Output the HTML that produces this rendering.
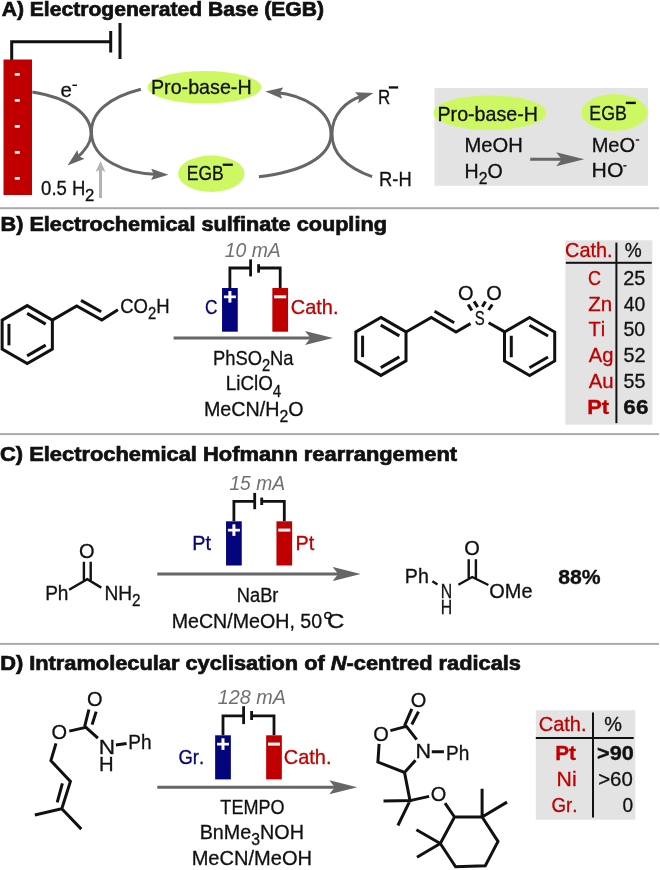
<!DOCTYPE html>
<html><head><meta charset="utf-8">
<style>
html,body{margin:0;padding:0;background:#fff;width:660px;height:870px;overflow:hidden}
svg{display:block;will-change:transform}
text{font-family:"Liberation Sans",sans-serif;font-kerning:none}
</style></head>
<body>
<svg width="660" height="870" viewBox="0 0 660 870">
<defs>
<marker id="ahS" markerWidth="30" markerHeight="16" refX="8" refY="7" orient="auto" markerUnits="userSpaceOnUse">
<path d="M28,7 L0,0 L5.5,7 L0,14 Z" fill="#666"/></marker>
<marker id="ahA" markerWidth="20" markerHeight="14" refX="7" refY="5.75" orient="auto" markerUnits="userSpaceOnUse">
<path d="M17.5,5.75 L0,0 L3,5.75 L0,11.5 Z" fill="#666"/></marker>
<marker id="ahL" markerWidth="14" markerHeight="12" refX="3" refY="5" orient="auto" markerUnits="userSpaceOnUse">
<path d="M11,5 L0,0 L2.5,5 L0,10 Z" fill="#b4b4b4"/></marker>
</defs>
<rect x="0" y="207.2" width="659" height="2" fill="#aaaaaa"/>
<rect x="0" y="433.1" width="659" height="2" fill="#aaaaaa"/>
<rect x="0" y="642.9" width="659" height="2" fill="#aaaaaa"/>
<path d="M11.7,60 V41.8 H110" stroke="#111111" stroke-width="3" fill="none"/>
<rect x="109.2" y="31" width="3" height="21.5" fill="#111111"/>
<rect x="118.5" y="23" width="3" height="36" fill="#111111"/>
<rect x="3.5" y="59.5" width="28.5" height="135.5" fill="#c00000"/>
<rect x="14.8" y="73.1" width="5" height="2.6" fill="#fff"/>
<rect x="14.8" y="99.1" width="5" height="2.6" fill="#fff"/>
<rect x="14.8" y="125.1" width="5" height="2.6" fill="#fff"/>
<rect x="14.8" y="151.1" width="5" height="2.6" fill="#fff"/>
<rect x="14.8" y="177.1" width="5" height="2.6" fill="#fff"/>
<path d="M32.3,92.1 C70,98 92,115 91,135 C90.5,145 84,152 75.6,158.8" stroke="#666666" stroke-width="3" fill="none" marker-end="url(#ahA)"/>
<path d="M140.9,89.2 C110,97 90,112 91.5,134 C93,160 125,174 158,174.5" stroke="#666666" stroke-width="3" fill="none" marker-end="url(#ahA)"/>
<path d="M258.9,176.7 C300,172 331,158 331,134 C331,110 303,95 275.8,92.5" stroke="#666666" stroke-width="3" fill="none" marker-end="url(#ahA)"/>
<path d="M372.1,176.7 C345,167 332,152 332,134 C332,115 345,101 363.3,95.8" stroke="#666666" stroke-width="3" fill="none" marker-end="url(#ahA)"/>
<path d="M100.5,198 V169" stroke="#b4b4b4" stroke-width="3" fill="none" marker-end="url(#ahL)"/>
<ellipse cx="204.5" cy="87.3" rx="56.8" ry="16.3" fill="#cdf864"/>
<ellipse cx="211.3" cy="173.7" rx="33.2" ry="18.2" fill="#cdf864"/>
<rect x="222.7" y="163.6" width="10.1" height="2.3" fill="#111111"/>
<rect x="388.8" y="86.3" width="9.4" height="2.3" fill="#111111"/>
<rect x="72.3" y="84.6" width="4.7" height="1.4" fill="#111111"/>
<rect x="434.5" y="88" width="213.5" height="97.8" fill="#e3e3e3"/>
<ellipse cx="490" cy="112.8" rx="56.4" ry="17.3" fill="#cdf864"/>
<ellipse cx="614.4" cy="112.5" rx="33.1" ry="18.3" fill="#cdf864"/>
<rect x="625.8" y="101.7" width="10" height="2.4" fill="#111111"/>
<rect x="635.8" y="139.3" width="3.4" height="1.4" fill="#111111"/>
<rect x="623.3" y="165.1" width="3.2" height="1.4" fill="#111111"/>
<path d="M530.2,159.2 H564.2" stroke="#666666" stroke-width="3" fill="none" marker-end="url(#ahS)"/>
<path d="M27.25,305.60 L52.36,320.10 L52.36,349.10 L27.25,363.60 L2.14,349.10 L2.14,320.10 Z" stroke="#111111" stroke-width="3" fill="none" stroke-linejoin="miter"/><path d="M27.11,313.37 L45.70,324.10" stroke="#111111" stroke-width="3"/><path d="M45.70,345.10 L27.11,355.83" stroke="#111111" stroke-width="3"/><path d="M8.94,345.33 L8.94,323.87" stroke="#111111" stroke-width="3"/>
<path d="M52.3,320.1 L76.7,306 L101.8,320.1 L117.9,309.8" stroke="#111111" stroke-width="3" fill="none" stroke-linejoin="miter" stroke-miterlimit="10"/>
<path d="M81,300.4 L101.2,311.7" stroke="#111111" stroke-width="3" fill="none" stroke-linejoin="miter" stroke-miterlimit="10"/>
<path d="M229.90,288 V268 H250.6 M258.6,268 H280.20 V288" stroke="#111111" stroke-width="2.8" fill="none"/><rect x="249.20" y="259.4" width="2.8" height="17.00" fill="#111111"/><rect x="257.20" y="264.2" width="2.8" height="8.50" fill="#111111"/><rect x="222.05" y="288" width="15.7" height="43.70" fill="#04047c"/><rect x="272.35" y="288" width="15.7" height="43.70" fill="#c00000"/><rect x="223.90" y="295.50" width="12" height="2.7" fill="#fff"/><rect x="228.40" y="291.00" width="3" height="11.6" fill="#fff"/><rect x="274.20" y="295.30" width="12" height="3" fill="#fff"/>
<path d="M173.6,338.1 H313" stroke="#666666" stroke-width="3" fill="none" marker-end="url(#ahS)"/>
<path d="M380.90,317.40 L406.01,331.90 L406.01,360.90 L380.90,375.40 L355.79,360.90 L355.79,331.90 Z" stroke="#111111" stroke-width="3" fill="none" stroke-linejoin="miter"/><path d="M380.76,325.17 L399.35,335.90" stroke="#111111" stroke-width="3"/><path d="M399.35,356.90 L380.76,367.63" stroke="#111111" stroke-width="3"/><path d="M362.59,357.13 L362.59,335.67" stroke="#111111" stroke-width="3"/>
<path d="M406,332 L431.3,317.5 L456,332 L470.5,323.6" stroke="#111111" stroke-width="3" fill="none" stroke-linejoin="miter" stroke-miterlimit="10"/>
<path d="M434.5,311.2 L454.2,322.8" stroke="#111111" stroke-width="3" fill="none" stroke-linejoin="miter" stroke-miterlimit="10"/>
<path d="M488.6,322.7 L504.3,331.6" stroke="#111111" stroke-width="3" fill="none" stroke-linejoin="miter" stroke-miterlimit="10"/>
<path d="M529.60,317.50 L554.71,332.00 L554.71,361.00 L529.60,375.50 L504.49,361.00 L504.49,332.00 Z" stroke="#111111" stroke-width="3" fill="none" stroke-linejoin="miter"/><path d="M529.46,325.27 L548.05,336.00" stroke="#111111" stroke-width="3"/><path d="M548.05,357.00 L529.46,367.73" stroke="#111111" stroke-width="3"/><path d="M511.29,357.23 L511.29,335.77" stroke="#111111" stroke-width="3"/>
<path d="M468.2,304.5 L471.8,310.5 M474.1,301.4 L477.7,307.1 M485.5,301.4 L482.3,306.8 M492.3,304.5 L488.6,310" stroke="#111111" stroke-width="3"/>
<rect x="565.3" y="240.3" width="87.1" height="184.4" fill="#e3e3e3"/>
<rect x="565.8" y="261.8" width="85.9" height="2" fill="#111111"/>
<rect x="615.4" y="242.6" width="2" height="180.6" fill="#111111"/>
<path d="M83.9,561.8 V580.5 M90.7,561.8 V580.5" stroke="#111111" stroke-width="2.4" fill="none" stroke-linejoin="miter" stroke-miterlimit="10"/>
<path d="M69.1,589.8 L87.3,579.2 L101.3,587.6" stroke="#111111" stroke-width="2.4" fill="none" stroke-linejoin="miter" stroke-miterlimit="10"/>
<path d="M233.90,521.3 V501.4 H254.7 M261.7,501.4 H284.30 V521.3" stroke="#111111" stroke-width="2.8" fill="none"/><rect x="253.30" y="492.9" width="2.8" height="16.30" fill="#111111"/><rect x="260.30" y="497.6" width="2.8" height="7.40" fill="#111111"/><rect x="226.05" y="521.3" width="15.7" height="44.20" fill="#04047c"/><rect x="276.45" y="521.3" width="15.7" height="44.20" fill="#c00000"/><rect x="227.90" y="528.80" width="12" height="2.7" fill="#fff"/><rect x="232.40" y="524.30" width="3" height="11.6" fill="#fff"/><rect x="278.30" y="528.60" width="12" height="3" fill="#fff"/>
<path d="M157.3,574 H340.7" stroke="#666666" stroke-width="3" fill="none" marker-end="url(#ahS)"/>
<path d="M432.4,581.3 L437.5,584.5 M458.4,584.8 L472.2,577 L488.4,585 M468.7,559.3 V578 M475.9,559.3 V578" stroke="#111111" stroke-width="2.4" fill="none" stroke-linejoin="miter" stroke-miterlimit="10"/>
<circle cx="327.9" cy="615.5" r="3.1" stroke="#111111" stroke-width="1.5" fill="none"/>
<path d="M84.6,726.6 L88.9,709.5 M92.1,724.6 L96.2,711.6" stroke="#111111" stroke-width="3" fill="none" stroke-linejoin="miter" stroke-miterlimit="10"/>
<path d="M69.3,731.1 L85.9,727.3 L97.9,738.2 M115.9,745 L126.6,743.4" stroke="#111111" stroke-width="3" fill="none" stroke-linejoin="miter" stroke-miterlimit="10"/>
<path d="M56,743.4 L50.9,760.7 L70.4,781.4 L61.8,808.7 L34.8,815 M61.8,808.7 L81.3,829.1 M62.4,783.4 L57.2,802.3" stroke="#111111" stroke-width="3" fill="none" stroke-linejoin="miter" stroke-miterlimit="10"/>
<path d="M223.00,735.3 V715.9 H243.6 M251.6,715.9 H274.00 V735.3" stroke="#111111" stroke-width="2.8" fill="none"/><rect x="242.20" y="706.2" width="2.8" height="17.90" fill="#111111"/><rect x="250.20" y="711.0" width="2.8" height="9.00" fill="#111111"/><rect x="215.15" y="735.3" width="15.7" height="44.10" fill="#04047c"/><rect x="266.15" y="735.3" width="15.7" height="44.10" fill="#c00000"/><rect x="217.00" y="742.80" width="12" height="2.7" fill="#fff"/><rect x="221.50" y="738.30" width="3" height="11.6" fill="#fff"/><rect x="268.00" y="742.60" width="12" height="3" fill="#fff"/>
<path d="M157.3,787.3 H337.3" stroke="#666666" stroke-width="3" fill="none" marker-end="url(#ahS)"/>
<path d="M404.5,725.8 L411.8,708.8 M411.8,724.5 L418.5,711.6" stroke="#111111" stroke-width="3" fill="none" stroke-linejoin="miter" stroke-miterlimit="10"/>
<path d="M390.4,730.6 L406.4,726.4 L416.7,739.7 M431.8,751.8 H443.9 M379.1,743.9 L377.9,762.1 L404.5,772.4 L415.5,760.3 M404.5,772.4 L410,800.6 L383.5,801.1 M410,800.6 L397.9,825.5 M410,800.6 L429.1,796.4" stroke="#111111" stroke-width="3" fill="none" stroke-linejoin="miter" stroke-miterlimit="10"/>
<path d="M445,803.2 L454.5,817 M454.5,817 L482.1,817 L498,841.4 L485.3,865.8 L455.6,866.8 L440.3,843.5 Z M482.1,817 L482.1,788.8 M482.1,817 L507,802.1 M440.3,843.5 L416.4,829.7 M440.3,843.5 L417,857.3" stroke="#111111" stroke-width="3" fill="none" stroke-linejoin="miter" stroke-miterlimit="10"/>
<rect x="535.8" y="710.3" width="99.5" height="109.4" fill="#e3e3e3"/>
<rect x="535.8" y="737" width="97.9" height="2" fill="#111111"/>
<rect x="592" y="712.5" width="2" height="105" fill="#111111"/>
<text transform="translate(1.67,16.00) scale(1.0556,1)" font-size="20.00" fill="#111111" stroke="#111111" stroke-width="0.7" font-weight="bold" ><tspan y="0">A) Electrogenerated Base (EGB)</tspan></text>
<text transform="translate(0.51,231.30) scale(1.0834,1)" font-size="20.00" fill="#111111" stroke="#111111" stroke-width="0.7" font-weight="bold" ><tspan y="0">B) Electrochemical sulfinate coupling</tspan></text>
<text transform="translate(-0.02,460.80) scale(1.0943,1)" font-size="20.00" fill="#111111" stroke="#111111" stroke-width="0.7" font-weight="bold" ><tspan y="0">C) Electrochemical Hofmann rearrangement</tspan></text>
<text transform="translate(60.50,96.50) scale(1.0240,1)" font-size="20.00" fill="#111111" stroke="#111111" stroke-width="0.3" ><tspan y="0">e</tspan></text>
<text transform="translate(41.11,195.00) scale(0.9256,1)" font-size="20.00" fill="#111111" stroke="#111111" stroke-width="0.3" ><tspan y="0">0.5 H</tspan></text>
<text transform="translate(85.11,201.00) scale(1.0133,1)" font-size="16.50" fill="#111111" stroke="#111111" stroke-width="0.3" ><tspan y="0">2</tspan></text>
<text transform="translate(151.00,93.60) scale(0.9848,1)" font-size="20.00" fill="#111111" stroke="#111111" stroke-width="0.3" ><tspan y="0">Pro-base-H</tspan></text>
<text transform="translate(186.78,180.30) scale(0.8734,1)" font-size="20.00" fill="#111111" stroke="#111111" stroke-width="0.3" ><tspan y="0">EGB</tspan></text>
<text transform="translate(378.12,104.20) scale(0.8505,1)" font-size="20.00" fill="#111111" stroke="#111111" stroke-width="0.3" ><tspan y="0">R</tspan></text>
<text transform="translate(379.11,185.70) scale(0.9174,1)" font-size="20.00" fill="#111111" stroke="#111111" stroke-width="0.3" ><tspan y="0">R-H</tspan></text>
<text transform="translate(437.50,120.50) scale(0.9828,1)" font-size="20.00" fill="#111111" stroke="#111111" stroke-width="0.3" ><tspan y="0">Pro-base-H</tspan></text>
<text transform="translate(589.36,119.70) scale(0.8861,1)" font-size="20.00" fill="#111111" stroke="#111111" stroke-width="0.3" ><tspan y="0">EGB</tspan></text>
<text transform="translate(464.56,152.30) scale(1.0092,1)" font-size="20.00" fill="#111111" stroke="#111111" stroke-width="0.3" ><tspan y="0">MeOH</tspan></text>
<text transform="translate(464.61,178.00) scale(0.9787,1)" font-size="20.00" fill="#111111" stroke="#111111" stroke-width="0.3" ><tspan y="0">H</tspan><tspan font-size="16.00" y="6.2">2</tspan><tspan y="0">O</tspan></text>
<text transform="translate(591.67,151.50) scale(1.0037,1)" font-size="20.00" fill="#111111" stroke="#111111" stroke-width="0.3" ><tspan y="0">MeO</tspan></text>
<text transform="translate(591.57,176.80) scale(1.0618,1)" font-size="20.00" fill="#111111" stroke="#111111" stroke-width="0.3" ><tspan y="0">HO</tspan></text>
<text transform="translate(120.17,312.80) scale(0.9261,1)" font-size="20.00" fill="#111111" stroke="#111111" stroke-width="0.3" ><tspan y="0">CO</tspan><tspan font-size="16.00" y="6.2">2</tspan><tspan y="0">H</tspan></text>
<text transform="translate(224.71,256.50) scale(0.9710,1)" font-size="20.00" fill="#707070" stroke="#707070" stroke-width="0.0" font-style="italic" ><tspan y="0">10 mA</tspan></text>
<text transform="translate(204.94,314.00) scale(0.8634,1)" font-size="20.00" fill="#04047c" stroke="#04047c" stroke-width="0.3" ><tspan y="0">C</tspan></text>
<text transform="translate(290.80,314.00) scale(0.9978,1)" font-size="20.00" fill="#c00000" stroke="#c00000" stroke-width="0.3" ><tspan y="0">Cath.</tspan></text>
<text transform="translate(213.01,364.80) scale(0.9171,1)" font-size="20.00" fill="#111111" stroke="#111111" stroke-width="0.3" ><tspan y="0">PhSO</tspan><tspan font-size="16.00" y="6.2">2</tspan><tspan y="0">Na</tspan></text>
<text transform="translate(225.77,390.30) scale(0.9404,1)" font-size="20.00" fill="#111111" stroke="#111111" stroke-width="0.3" ><tspan y="0">LiClO</tspan><tspan font-size="16.00" y="6.2">4</tspan></text>
<text transform="translate(203.90,415.90) scale(0.9856,1)" font-size="20.00" fill="#111111" stroke="#111111" stroke-width="0.3" ><tspan y="0">MeCN/H</tspan><tspan font-size="16.00" y="6.2">2</tspan><tspan y="0">O</tspan></text>
<text transform="translate(457.95,300.30) scale(1.0000,1)" font-size="20.00" fill="#111111" stroke="#111111" stroke-width="0.3" ><tspan y="0">O</tspan></text>
<text transform="translate(486.35,300.30) scale(1.0000,1)" font-size="20.00" fill="#111111" stroke="#111111" stroke-width="0.3" ><tspan y="0">O</tspan></text>
<text transform="translate(474.85,325.00) scale(0.7478,1)" font-size="20.00" fill="#111111" stroke="#111111" stroke-width="0.3" ><tspan y="0">S</tspan></text>
<text transform="translate(565.11,257.40) scale(0.9933,1)" font-size="20.00" fill="#c00000" stroke="#c00000" stroke-width="0.3" ><tspan y="0">Cath.</tspan></text>
<text transform="translate(624.79,257.40) scale(0.9527,1)" font-size="20.00" fill="#111111" stroke="#111111" stroke-width="0.3" ><tspan y="0">%</tspan></text>
<text transform="translate(587.90,284.70) scale(0.9030,1)" font-size="20.00" fill="#c00000" stroke="#c00000" stroke-width="0.3" ><tspan y="0">C</tspan></text>
<text transform="translate(623.20,284.70) scale(0.9963,1)" font-size="20.00" fill="#111111" stroke="#111111" stroke-width="0.3" ><tspan y="0">25</tspan></text>
<text transform="translate(588.16,310.50) scale(1.0233,1)" font-size="20.00" fill="#c00000" stroke="#c00000" stroke-width="0.3" ><tspan y="0">Zn</tspan></text>
<text transform="translate(623.72,310.50) scale(0.9667,1)" font-size="20.00" fill="#111111" stroke="#111111" stroke-width="0.3" ><tspan y="0">40</tspan></text>
<text transform="translate(588.42,336.30) scale(1.0000,1)" font-size="20.00" fill="#c00000" stroke="#c00000" stroke-width="0.3" ><tspan y="0">Ti</tspan></text>
<text transform="translate(623.47,336.30) scale(0.9783,1)" font-size="20.00" fill="#111111" stroke="#111111" stroke-width="0.3" ><tspan y="0">50</tspan></text>
<text transform="translate(588.80,362.10) scale(1.0108,1)" font-size="20.00" fill="#c00000" stroke="#c00000" stroke-width="0.3" ><tspan y="0">Ag</tspan></text>
<text transform="translate(623.46,362.10) scale(0.9902,1)" font-size="20.00" fill="#111111" stroke="#111111" stroke-width="0.3" ><tspan y="0">52</tspan></text>
<text transform="translate(588.80,388.30) scale(1.0162,1)" font-size="20.00" fill="#c00000" stroke="#c00000" stroke-width="0.3" ><tspan y="0">Au</tspan></text>
<text transform="translate(623.46,388.30) scale(0.9842,1)" font-size="20.00" fill="#111111" stroke="#111111" stroke-width="0.3" ><tspan y="0">55</tspan></text>
<text transform="translate(587.30,413.60) scale(1.0884,1)" font-size="20.00" fill="#c00000" stroke="#c00000" stroke-width="0.35" font-weight="bold" ><tspan y="0">Pt</tspan></text>
<text transform="translate(623.35,413.60) scale(1.1277,1)" font-size="20.00" fill="#111111" stroke="#111111" stroke-width="0.35" font-weight="bold" ><tspan y="0">66</tspan></text>
<text transform="translate(78.95,557.60) scale(1.0000,1)" font-size="20.00" fill="#111111" stroke="#111111" stroke-width="0.3" ><tspan y="0">O</tspan></text>
<text transform="translate(45.15,600.00) scale(0.9526,1)" font-size="20.00" fill="#111111" stroke="#111111" stroke-width="0.3" ><tspan y="0">Ph</tspan></text>
<text transform="translate(104.44,600.00) scale(0.9577,1)" font-size="20.00" fill="#111111" stroke="#111111" stroke-width="0.3" ><tspan y="0">NH</tspan><tspan font-size="16.00" y="6.2">2</tspan></text>
<text transform="translate(229.42,490.20) scale(0.9621,1)" font-size="20.00" fill="#707070" stroke="#707070" stroke-width="0.0" font-style="italic" ><tspan y="0">15 mA</tspan></text>
<text transform="translate(192.19,550.20) scale(0.9927,1)" font-size="20.00" fill="#04047c" stroke="#04047c" stroke-width="0.3" ><tspan y="0">Pt</tspan></text>
<text transform="translate(295.49,550.20) scale(0.9927,1)" font-size="20.00" fill="#c00000" stroke="#c00000" stroke-width="0.3" ><tspan y="0">Pt</tspan></text>
<text transform="translate(236.81,601.70) scale(0.9143,1)" font-size="20.00" fill="#111111" stroke="#111111" stroke-width="0.3" ><tspan y="0">NaBr</tspan></text>
<text transform="translate(171.70,627.60) scale(0.9816,1)" font-size="20.00" fill="#111111" stroke="#111111" stroke-width="0.3" ><tspan y="0">MeCN/MeOH, 50</tspan></text>
<text transform="translate(327.00,627.60) scale(1.2040,1)" font-size="20.00" fill="#111111" stroke="#111111" stroke-width="0.3" ><tspan y="0">C</tspan></text>
<text transform="translate(404.81,582.60) scale(0.9803,1)" font-size="20.00" fill="#111111" stroke="#111111" stroke-width="0.3" ><tspan y="0">Ph</tspan></text>
<text transform="translate(440.71,597.50) scale(0.7911,1)" font-size="20.00" fill="#111111" stroke="#111111" stroke-width="0.3" ><tspan y="0">N</tspan></text>
<text transform="translate(440.71,613.80) scale(0.7911,1)" font-size="20.00" fill="#111111" stroke="#111111" stroke-width="0.3" ><tspan y="0">H</tspan></text>
<text transform="translate(464.25,555.00) scale(1.0000,1)" font-size="20.00" fill="#111111" stroke="#111111" stroke-width="0.3" ><tspan y="0">O</tspan></text>
<text transform="translate(489.33,597.50) scale(0.9952,1)" font-size="20.00" fill="#111111" stroke="#111111" stroke-width="0.3" ><tspan y="0">OMe</tspan></text>
<text transform="translate(558.14,583.60) scale(1.0598,1)" font-size="20.00" fill="#111111" stroke="#111111" stroke-width="0.35" font-weight="bold" ><tspan y="0">88%</tspan></text>
<text transform="translate(86.95,705.90) scale(1.0000,1)" font-size="20.00" fill="#111111" stroke="#111111" stroke-width="0.3" ><tspan y="0">O</tspan></text>
<text transform="translate(51.45,739.40) scale(1.0000,1)" font-size="20.00" fill="#111111" stroke="#111111" stroke-width="0.3" ><tspan y="0">O</tspan></text>
<text transform="translate(98.77,754.20) scale(1.1289,1)" font-size="20.00" fill="#111111" stroke="#111111" stroke-width="0.3" ><tspan y="0">N</tspan></text>
<text transform="translate(98.95,771.20) scale(1.0133,1)" font-size="20.00" fill="#111111" stroke="#111111" stroke-width="0.3" ><tspan y="0">H</tspan></text>
<text transform="translate(128.35,749.00) scale(0.9526,1)" font-size="20.00" fill="#111111" stroke="#111111" stroke-width="0.3" ><tspan y="0">Ph</tspan></text>
<text transform="translate(217.70,704.20) scale(0.9903,1)" font-size="20.00" fill="#707070" stroke="#707070" stroke-width="0.0" font-style="italic" ><tspan y="0">128 mA</tspan></text>
<text transform="translate(178.48,763.60) scale(0.9246,1)" font-size="20.00" fill="#04047c" stroke="#04047c" stroke-width="0.3" ><tspan y="0">Gr.</tspan></text>
<text transform="translate(283.80,763.60) scale(0.9978,1)" font-size="20.00" fill="#c00000" stroke="#c00000" stroke-width="0.3" ><tspan y="0">Cath.</tspan></text>
<text transform="translate(220.36,814.20) scale(0.9030,1)" font-size="20.00" fill="#111111" stroke="#111111" stroke-width="0.3" ><tspan y="0">TEMPO</tspan></text>
<text transform="translate(199.70,839.00) scale(0.9875,1)" font-size="20.00" fill="#111111" stroke="#111111" stroke-width="0.3" ><tspan y="0">BnMe</tspan><tspan font-size="16.00" y="6.2">3</tspan><tspan y="0">NOH</tspan></text>
<text transform="translate(191.67,864.70) scale(1.0030,1)" font-size="20.00" fill="#111111" stroke="#111111" stroke-width="0.3" ><tspan y="0">MeCN/MeOH</tspan></text>
<text transform="translate(410.75,707.20) scale(1.0000,1)" font-size="20.00" fill="#111111" stroke="#111111" stroke-width="0.3" ><tspan y="0">O</tspan></text>
<text transform="translate(373.15,740.60) scale(1.0000,1)" font-size="20.00" fill="#111111" stroke="#111111" stroke-width="0.3" ><tspan y="0">O</tspan></text>
<text transform="translate(415.55,757.60) scale(1.0756,1)" font-size="20.00" fill="#111111" stroke="#111111" stroke-width="0.3" ><tspan y="0">N</tspan></text>
<text transform="translate(446.05,759.50) scale(0.9526,1)" font-size="20.00" fill="#111111" stroke="#111111" stroke-width="0.3" ><tspan y="0">Ph</tspan></text>
<text transform="translate(430.85,801.20) scale(1.0000,1)" font-size="20.00" fill="#111111" stroke="#111111" stroke-width="0.3" ><tspan y="0">O</tspan></text>
<text transform="translate(538.70,731.30) scale(1.0000,1)" font-size="20.00" fill="#c00000" stroke="#c00000" stroke-width="0.3" ><tspan y="0">Cath.</tspan></text>
<text transform="translate(604.25,731.30) scale(0.9954,1)" font-size="20.00" fill="#111111" stroke="#111111" stroke-width="0.3" ><tspan y="0">%</tspan></text>
<text transform="translate(555.27,760.30) scale(1.0395,1)" font-size="20.00" fill="#c00000" stroke="#c00000" stroke-width="0.35" font-weight="bold" ><tspan y="0">Pt</tspan></text>
<text transform="translate(597.05,760.30) scale(1.0853,1)" font-size="20.00" fill="#111111" stroke="#111111" stroke-width="0.35" font-weight="bold" ><tspan y="0">&gt;90</tspan></text>
<text transform="translate(556.57,785.80) scale(1.0625,1)" font-size="20.00" fill="#c00000" stroke="#c00000" stroke-width="0.3" ><tspan y="0">Ni</tspan></text>
<text transform="translate(598.18,785.80) scale(1.0210,1)" font-size="20.00" fill="#111111" stroke="#111111" stroke-width="0.3" ><tspan y="0">&gt;60</tspan></text>
<text transform="translate(551.56,812.00) scale(0.9367,1)" font-size="20.00" fill="#c00000" stroke="#c00000" stroke-width="0.3" ><tspan y="0">Gr.</tspan></text>
<text transform="translate(622.58,812.00) scale(0.9558,1)" font-size="20.00" fill="#111111" stroke="#111111" stroke-width="0.3" ><tspan y="0">0</tspan></text>
<text transform="translate(0.20,669.8) scale(1.0907,1)" font-size="20.0" font-weight="bold" fill="#111111" stroke="#111111" stroke-width="0.7">D) Intramolecular cyclisation of <tspan font-style="italic">N</tspan>-centred radicals</text>
</svg>
</body></html>
